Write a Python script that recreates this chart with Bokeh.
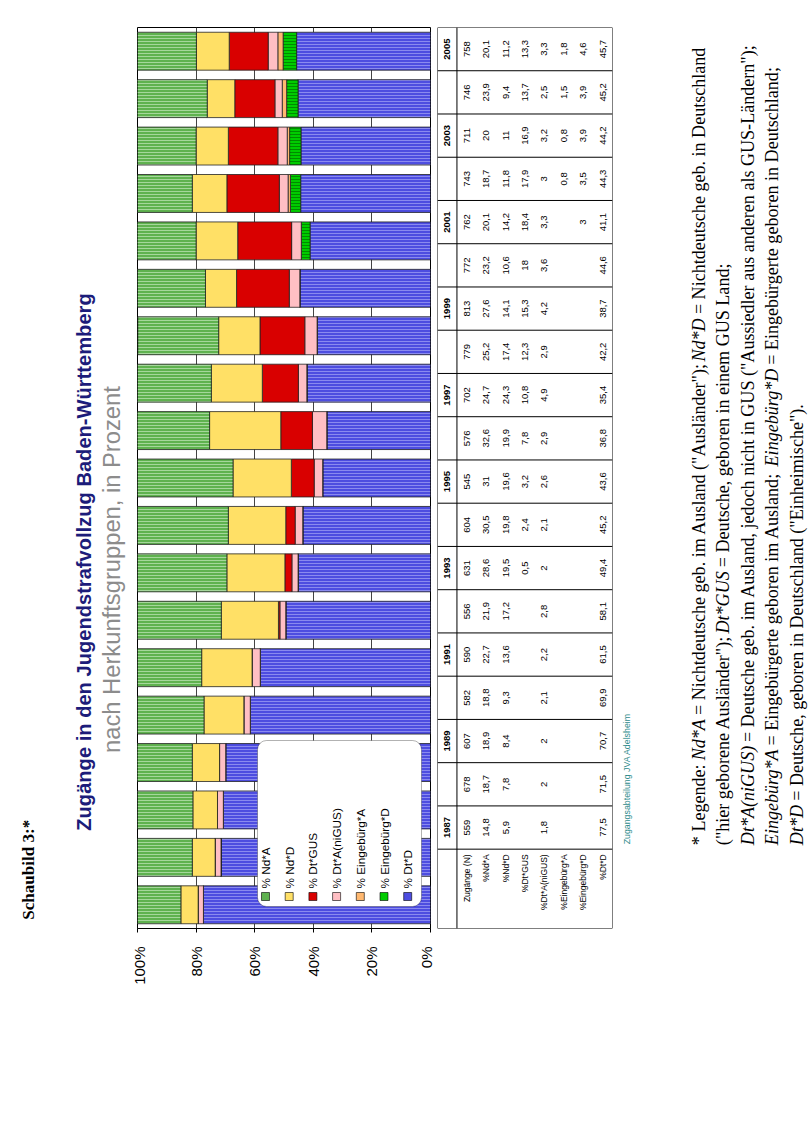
import math
import os
import subprocess
from bokeh.plotting import figure
from bokeh.layouts import row
from bokeh.models import Range1d, FixedTicker, PrintfTickFormatter, ColumnDataSource, BoxAnnotation
from bokeh.transform import stack
from bokeh.core.properties import value
from bokeh.embed import file_html
from bokeh.resources import INLINE
from PIL import ImageFont

# ---------------- data ----------------
years = list(range(1987, 2006))
zugaenge_n = [559, 678, 607, 582, 590, 556, 631, 604, 545, 576, 702, 779, 813, 772, 762, 743, 711, 746, 758]
pct_nd_a = [14.8, 18.7, 18.9, 18.8, 22.7, 21.9, 28.6, 30.5, 31, 32.6, 24.7, 25.2, 27.6, 23.2, 20.1, 18.7, 20, 23.9, 20.1]
pct_nd_d = [5.9, 7.8, 8.4, 9.3, 13.6, 17.2, 19.5, 19.8, 19.6, 19.9, 24.3, 17.4, 14.1, 10.6, 14.2, 11.8, 11, 9.4, 11.2]
pct_dt_gus = [None, None, None, None, None, None, 0.5, 2.4, 3.2, 7.8, 10.8, 12.3, 15.3, 18, 18.4, 17.9, 16.9, 13.7, 13.3]
pct_dt_a_nigus = [1.8, 2, 2, 2.1, 2.2, 2.8, 2, 2.1, 2.6, 2.9, 4.9, 2.9, 4.2, 3.6, 3.3, 3, 3.2, 2.5, 3.3]
pct_eing_a = [None] * 15 + [0.8, 0.8, 1.5, 1.8]
pct_eing_d = [None] * 14 + [3, 3.5, 3.9, 3.9, 4.6]
pct_dt_d = [77.5, 71.5, 70.7, 69.9, 61.5, 58.1, 49.4, 45.2, 43.6, 36.8, 35.4, 42.2, 38.7, 44.6, 41.1, 44.3, 44.2, 45.2, 45.7]

series_names = ["% Nd*A", "% Nd*D", "% Dt*GUS", "% Dt*A(niGUS)", "% Eingebürg*A", "% Eingebürg*D", "% Dt*D"]
row_labels = ["Zugänge (N)", "%Nd*A", "%Nd*D", "%Dt*GUS", "%Dt*A(niGUS)", "%Eingebürg*A", "%Eingebürg*D", "%Dt*D"]
value_ticks = [0, 20, 40, 60, 80, 100]

series_values = [pct_nd_a, pct_nd_d, pct_dt_gus, pct_dt_a_nigus, pct_eing_a, pct_eing_d, pct_dt_d]
colors = ["#5fb24f", "#ffe066", "#d90000", "#ffbfc4", "#ffb870", "#00cc00", "#4d4de0"]
hatch_colors = ["#b6e0ae", None, None, None, None, "#007a00", "#9a9af2"]

PAGE_H = 1124
SANS = "Liberation Sans"
SERIF = "Liberation Serif"

_ff = {}


def font_file(pattern):
    if pattern in _ff:
        return _ff[pattern]
    path = None
    try:
        r = subprocess.run(["fc-match", "-f", "%{file}", pattern], capture_output=True, text=True, timeout=10)
        if r.stdout.strip() and os.path.exists(r.stdout.strip()):
            path = r.stdout.strip()
    except Exception:
        path = None
    _ff[pattern] = path
    return path


def em_width(text, pattern, fallback=0.5):
    path = font_file(pattern)
    if path:
        try:
            return ImageFont.truetype(path, 200).getlength(text) / 200.0
        except Exception:
            pass
    return fallback * len(text)


def fit_size(text, pattern, length, k):
    # k: empirical ratio between drawn length of rotated text and its nominal length
    return length / (em_width(text, pattern) * k)


narrow_path = font_file("Liberation Sans Narrow") or ""
SUB_FONT = "Liberation Sans Narrow" if "Narrow" in os.path.basename(narrow_path) else SANS

# ---------------- bar chart ----------------
keys = ["nda", "ndd", "gus", "dta", "ea", "ed", "dtd"]
data = {"year": years}
for k, vals in zip(keys, series_values):
    data[k] = [v if v is not None else 0 for v in vals]
src = ColumnDataSource(data)

FR_L, FR_R, FR_T, FR_B = 137, 430, 27, 928
pb = figure(width=304, height=PAGE_H, x_range=Range1d(100, 0), y_range=Range1d(1986.5, 2005.5),
            output_backend="svg", toolbar_location=None, y_axis_location=None,
            min_border_left=7, min_border_right=4, min_border_top=FR_T, min_border_bottom=PAGE_H - FR_B)
pb.outline_line_color = "black"
pb.ygrid.visible = False
pb.xgrid.ticker = FixedTicker(ticks=value_ticks)
pb.xgrid.grid_line_color = "#444444"
pb.xaxis.ticker = FixedTicker(ticks=value_ticks)
pb.xaxis.formatter = PrintfTickFormatter(format="%d%%")
pb.xaxis.major_label_orientation = math.pi / 2
pb.xaxis.major_label_text_font = SANS
pb.xaxis.major_label_text_font_size = "15px"
pb.xaxis.major_label_text_color = "black"
pb.xaxis.major_label_standoff = 14
pb.xaxis.axis_line_color = "black"
pb.xaxis.major_tick_line_color = "black"
pb.xaxis.major_tick_out = 4
pb.xaxis.major_tick_in = 0
pb.xaxis.minor_tick_line_color = None

order = list(range(len(keys)))[::-1]
stacked = []
for idx in order:
    k = keys[idx]
    kw = dict(fill_color=colors[idx], line_color="#222222", line_width=0.8)
    if hatch_colors[idx]:
        kw.update(hatch_pattern="horizontal_line", hatch_color=hatch_colors[idx], hatch_scale=3,
                  hatch_weight=1, hatch_alpha=0.8)
    pb.hbar(y="year", height=0.8, left=stack(*stacked), right=stack(*(stacked + [k])), source=src, **kw)
    stacked.append(k)


def px2x(px):
    return 100 - (px - FR_L) / (FR_R - FR_L) * 100


def py2y(py):
    return 2005.5 - (py - FR_T) / (FR_B - FR_T) * 19


box = BoxAnnotation(left=px2x(257), right=px2x(421), top=py2y(740), bottom=py2y(906),
                    fill_color="white", fill_alpha=1, line_color="black", line_width=1, border_radius=9)
pb.add_layout(box)
lx = [px2x(265 + 23.7 * i) for i in range(len(series_names))]
sw = pb.rect(x=lx, y=[py2y(896)] * len(lx), width=8, height=8, width_units="screen", height_units="screen",
             fill_color=colors, line_color="black", line_width=0.6)
sw.level = "overlay"
leg_fs = fit_size("% Dt*A(niGUS)", SANS, 100.0, 1.245)
lt = pb.text(x=lx, y=[py2y(888)] * len(lx), text=series_names, angle=math.pi / 2,
             text_align="left", text_baseline="middle", text_font=value(SANS),
             text_font_size="%.2fpx" % leg_fs, text_color="black")
lt.level = "overlay"

# ---------------- data table ----------------
TB_B = 1015
ncols = 1 + len(row_labels)
y_lo = 1986.5 - (TB_B - FR_B) / (FR_B - FR_T) * 19
pt = figure(width=181, height=PAGE_H, x_range=Range1d(0, ncols), y_range=Range1d(y_lo, 2005.5),
            output_backend="svg", toolbar_location=None, x_axis_location=None, y_axis_location=None,
            min_border_left=3, min_border_right=3, min_border_top=FR_T, min_border_bottom=PAGE_H - TB_B)
pt.outline_line_color = None
pt.grid.visible = False
hy = [y + 0.5 for y in years] + [1986.5, y_lo]
pt.segment(x0=[0] * len(hy), x1=[ncols] * len(hy), y0=hy, y1=hy, line_color="black", line_width=1)
pt.segment(x0=[0, 1, ncols], x1=[0, 1, ncols], y0=[y_lo] * 3, y1=[2005.5] * 3, line_color="black", line_width=1)


def fmt(v):
    if v is None:
        return ""
    if float(v).is_integer():
        return str(int(v))
    return ("%.1f" % v).replace(".", ",")


table_rows = [zugaenge_n] + series_values
tx, ty, tt = [], [], []
for j, vals in enumerate(table_rows):
    for yr, v in zip(years, vals):
        s = fmt(v)
        if s:
            tx.append(j + 1.5)
            ty.append(yr)
            tt.append(s)
pt.text(x=tx, y=ty, text=tt, angle=math.pi / 2, text_align="center", text_baseline="middle",
        text_font=value(SANS), text_font_size="9.5px", text_color="black")
odd_years = [y for y in years if y % 2 == 1]
pt.text(x=[0.5] * len(odd_years), y=odd_years, text=[str(y) for y in odd_years], angle=math.pi / 2,
        text_align="center", text_baseline="middle", text_font=value(SANS), text_font_size="9.5px",
        text_font_style="bold", text_color="black")
pt.text(x=[j + 1.5 for j in range(len(row_labels))], y=[1986.5 - 0.12] * len(row_labels), text=row_labels,
        angle=math.pi / 2, text_align="right", text_baseline="middle", text_font=value(SANS),
        text_font_size="8.5px", text_color="black")

# ---------------- title strip ----------------
pa = figure(width=130, height=PAGE_H, x_range=Range1d(0, 130), y_range=Range1d(0, PAGE_H),
            output_backend="svg", toolbar_location=None, x_axis_location=None, y_axis_location=None,
            min_border=0)
pa.outline_line_color = None
pa.grid.visible = False
head_txt = "Schaubild 3:*"
title_txt = "Zugänge in den Jugendstrafvollzug Baden-Württemberg"
sub_txt = "nach Herkunftsgruppen, in Prozent"
head_fs = fit_size(head_txt, SERIF + ":bold", 128.0, 1.28)
title_fs = fit_size(title_txt, SANS + ":bold", 712.0, 1.324)
sub_fs = fit_size(sub_txt, SUB_FONT, 510.0, 1.39 if SUB_FONT == SANS else 1.3)
pa.text(x=[28], y=[PAGE_H - 1113], text=[head_txt], angle=math.pi / 2, text_align="left",
        text_baseline="middle", text_font=value(SERIF), text_font_size="%.2fpx" % head_fs,
        text_font_style="bold", text_color="black")
pa.text(x=[83], y=[PAGE_H - 1002], text=[title_txt], angle=math.pi / 2, text_align="left",
        text_baseline="middle", text_font=value(SANS), text_font_size="%.2fpx" % title_fs,
        text_font_style="bold", text_color="#1c1c7a")
pa.text(x=[111], y=[PAGE_H - 905], text=[sub_txt], angle=math.pi / 2, text_align="left",
        text_baseline="middle", text_font=value(SUB_FONT), text_font_size="%.2fpx" % sub_fs,
        text_color="#8c8c8c")

# ---------------- footnote strip ----------------
X0 = 615
pdd = figure(width=811 - 130 - 304 - 181, height=PAGE_H, x_range=Range1d(X0, 811), y_range=Range1d(0, PAGE_H),
             output_backend="svg", toolbar_location=None, x_axis_location=None, y_axis_location=None,
             min_border=0)
pdd.outline_line_color = None
pdd.grid.visible = False
src_txt = "Zugangsabteilung JVA Adelsheim"
pdd.text(x=[626], y=[PAGE_H - 1019], text=[src_txt], angle=math.pi / 2,
         text_align="left", text_baseline="middle", text_font=value(SANS), text_font_size="8.8px",
         text_color="#2e8b8b")

foot_lines = [
    [("* Legende: ", False), ("Nd*A", True), (' = Nichtdeutsche geb. im Ausland ("Ausländer"); ', False),
     ("Nd*D", True), (" = Nichtdeutsche geb. in Deutschland", False)],
    [('("hier geborene Ausländer"); ', False), ("Dt*GUS", True), (" = Deutsche, geboren in einem GUS Land;", False)],
    [("Dt*A(niGUS)", True), (' = Deutsche geb. im Ausland, jedoch nicht in GUS ("Aussiedler aus anderen als GUS-Ländern");', False)],
    [("Eingebürg*A", True), (" = Eingebürgerte geboren im Ausland;  ", False), ("Eingebürg*D", True),
     (" = Eingebürgerte geboren in Deutschland;", False)],
    [("Dt*D", True), (' = Deutsche, geboren in Deutschland ("Einheimische").', False)],
]
K_FOOT_SIZE = 1.23
K_FOOT_STEP = 1.24


def seg_em(s, it):
    return em_width(s, SERIF + (":italic" if it else ""))


def line_em(segs):
    return sum(seg_em(s, it) for s, it in segs)


FS = min(985.0 / (line_em(foot_lines[0]) * K_FOOT_SIZE), 1000.0 / (line_em(foot_lines[2]) * K_FOOT_SIZE))
for li, segs in enumerate(foot_lines):
    xline = 698 + 24.5 * li
    off = 0.0
    for s, it in segs:
        stripped = s.lstrip(" ")
        lead = s[: len(s) - len(stripped)]
        pos = off + (seg_em(lead, it) * FS * K_FOOT_STEP if lead else 0.0)
        pdd.text(x=[xline], y=[PAGE_H - 1020 + pos], text=[stripped.rstrip(" ")], angle=math.pi / 2,
                 text_align="left", text_baseline="middle", text_font=value(SERIF),
                 text_font_size="%.2fpx" % FS, text_font_style="italic" if it else "normal",
                 text_color="black")
        off += seg_em(s, it) * FS * K_FOOT_STEP

layout = row(pa, pb, pt, pdd)
open("out.html", "w").write(file_html(layout, INLINE))
